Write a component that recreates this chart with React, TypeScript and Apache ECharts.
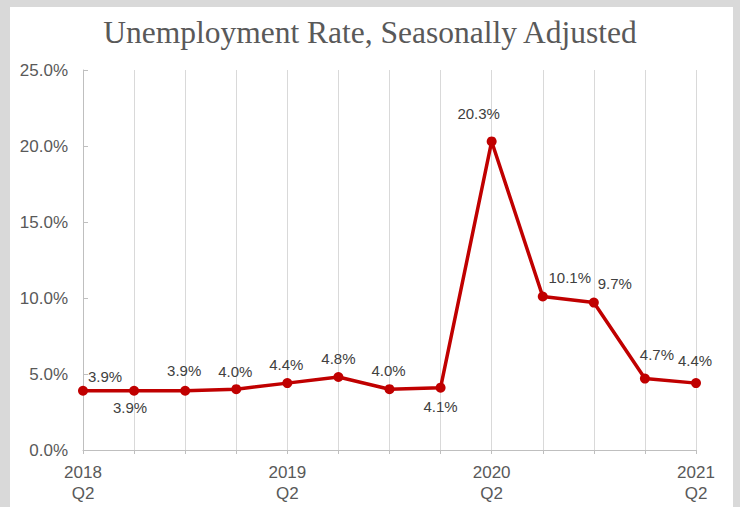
import React, { useEffect, useRef } from "react";
import * as echarts from "echarts";

const categories = [
  "2018 Q2", "2018 Q3", "2018 Q4", "2019 Q1", "2019 Q2", "2019 Q3", "2019 Q4",
  "2020 Q1", "2020 Q2", "2020 Q3", "2020 Q4", "2021 Q1", "2021 Q2",
];
const rates = [3.9, 3.9, 3.9, 4.0, 4.4, 4.8, 4.0, 4.1, 20.3, 10.1, 9.7, 4.7, 4.4];
const yTicks = [0, 5, 10, 15, 20, 25];
// label offsets from each point (centre of label relative to point)
const labelOffsets: [number, number][] = [
  [22, -14], [-4, 17], [-1, -20], [-1, -18], [-1, -19], [0, -19], [-1, -19],
  [0, 19], [-13, -28], [27, -19], [21, -19], [12, -24], [-1, -23],
];

export default function App() {
  const ref = useRef<HTMLDivElement>(null);
  useEffect(() => {
    if (!ref.current) return;
    const chart = echarts.init(ref.current, null, { renderer: "svg" });
    chart.setOption({
      animation: false,
      backgroundColor: "#d9d9d9",
      graphic: [
        {
          type: "rect",
          shape: { x: 10, y: 7, width: 723, height: 510 },
          style: { fill: "#ffffff" },
          z: -10,
          silent: true,
        },
      ],
      title: {
        text: "Unemployment Rate, Seasonally Adjusted",
        left: "center",
        top: 11,
        textStyle: {
          fontFamily: "Liberation Serif",
          fontWeight: "normal",
          fontSize: 31.5,
          color: "#595959",
        },
      },
      grid: { left: 83, right: 44, top: 70, bottom: 57 },
      xAxis: {
        type: "category",
        data: categories,
        boundaryGap: false,
        axisLine: { lineStyle: { color: "#bfbfbf" } },
        axisTick: { show: true, length: 4, interval: 0, lineStyle: { color: "#bfbfbf" } },
        splitLine: { show: true, interval: 0, lineStyle: { color: "#d9d9d9" } },
        axisLabel: {
          interval: 3,
          margin: 12,
          fontFamily: "Liberation Sans",
          fontSize: 17,
          lineHeight: 21,
          color: "#595959",
          formatter: (v: string) => v.replace(" ", "\n"),
        },
      },
      yAxis: {
        type: "value",
        min: yTicks[0],
        max: yTicks[yTicks.length - 1],
        interval: 5,
        axisLine: { show: true, lineStyle: { color: "#bfbfbf" } },
        axisTick: { show: true, inside: true, length: 5, lineStyle: { color: "#bfbfbf" } },
        splitLine: { show: false },
        axisLabel: {
          margin: 15,
          fontFamily: "Liberation Sans",
          fontSize: 17,
          color: "#595959",
          formatter: (v: number) => v.toFixed(1) + "%",
        },
      },
      series: [
        {
          type: "line",
          data: rates.map((v, i) => ({
            value: v,
            label: { offset: labelOffsets[i] },
          })),
          symbol: "circle",
          symbolSize: 10,
          lineStyle: { color: "#c00000", width: 3.5 },
          itemStyle: { color: "#c00000" },
          label: {
            show: true,
            position: "inside",
            fontFamily: "Liberation Sans",
            fontSize: 15,
            color: "#404040",
            formatter: (p: any) => p.value.toFixed(1) + "%",
          },
        },
      ],
    });
    return () => chart.dispose();
  }, []);
  return (
    <div
      ref={ref}
      style={{ position: "absolute", left: 0, top: 0, width: 740, height: 507 }}
    />
  );
}
